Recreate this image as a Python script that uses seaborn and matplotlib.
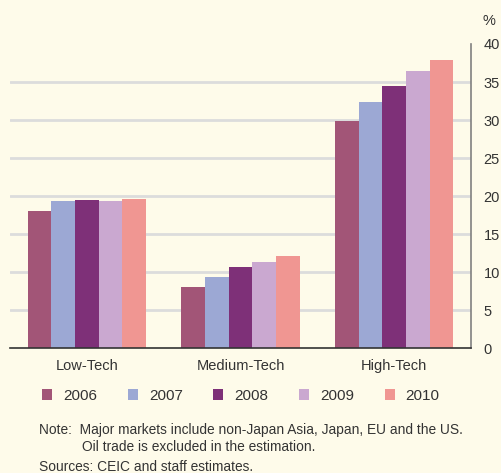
import numpy as np
import pandas as pd
import matplotlib
matplotlib.use("Agg")
import matplotlib.pyplot as plt
import seaborn as sns
from matplotlib.patches import Patch

# ── Data ──────────────────────────────────────────────────────────────────────
categories = ["Low-Tech", "Medium-Tech", "High-Tech"]
years = ["2006", "2007", "2008", "2009", "2010"]
share_2006 = [18.1, 8.0, 29.9]
share_2007 = [19.3, 9.3, 32.4]
share_2008 = [19.5, 10.7, 34.5]
share_2009 = [19.3, 11.3, 36.4]
share_2010 = [19.6, 12.1, 37.9]
y_ticks = [0, 5, 10, 15, 20, 25, 30, 35, 40]

colors = ["#A25577", "#9CA8D4", "#7E3078", "#CAA8D0", "#F09692"]
bg = "#FEFBEA"

rows = []
for yr, vals in zip(years, [share_2006, share_2007, share_2008, share_2009, share_2010]):
    for cat, v in zip(categories, vals):
        rows.append({"category": cat, "year": yr, "share": v})
df = pd.DataFrame(rows)

sns.set_style("white")
plt.rcParams["font.family"] = ["Liberation Sans", "DejaVu Sans"]

fig = plt.figure(figsize=(5.02, 4.73), dpi=100, facecolor=bg)
ax = fig.add_axes([0.02, 0.264, 0.918, 0.643], facecolor=bg)

for y in y_ticks[1:-1]:
    ax.axhline(y, color="#DCDCDC", lw=2.0, zorder=0)

sns.barplot(data=df, x="category", y="share", hue="year", order=categories,
            hue_order=years, palette=colors, width=0.77, gap=0,
            saturation=1, linewidth=0, ax=ax, legend=False, zorder=2)

ax.set_ylim(0, 40)
ax.set_xlim(-0.5, 2.5)
ax.set_xlabel("")
ax.set_ylabel("")

# y axis on right
ax.yaxis.tick_right()
ax.set_yticks(y_ticks)
ax.tick_params(axis="y", length=0, pad=9, labelsize=10.5, labelcolor="#333333")
for s in ["top", "left"]:
    ax.spines[s].set_visible(False)
ax.spines["right"].set_color("#808080")
ax.spines["right"].set_linewidth(1.2)
ax.spines["bottom"].set_color("#333333")
ax.spines["bottom"].set_linewidth(1.2)

# x ticks at group boundaries, labels at centres
ax.set_xticks([-0.5, 0.5, 1.5])
ax.set_xticklabels([])
ax.tick_params(axis="x", which="major", direction="in", length=10, width=1, color="#333333")
ax.set_xticks([0, 1, 2], minor=True)
ax.set_xticklabels(categories, minor=True)
ax.tick_params(axis="x", which="minor", length=0, pad=8, labelsize=10.5, labelcolor="#333333")

fig.text(0.987, 0.955, "%", ha="right", va="center", fontsize=10.5, color="#333333")

handles = [Patch(facecolor=c, edgecolor="none") for c in colors]
fig.legend(handles, years, loc="center", bbox_to_anchor=(0.48, 0.163), ncol=5,
           frameon=False, fontsize=11, handlelength=0.65, handleheight=0.65,
           handletextpad=0.73, columnspacing=2.0, labelcolor="#333333")

fig.text(0.078, 0.09, "Note:  Major markets include non-Japan Asia, Japan, EU and the US.",
         fontsize=9.9, color="#333333", va="center")
fig.text(0.163, 0.055, "Oil trade is excluded in the estimation.",
         fontsize=9.9, color="#333333", va="center")
fig.text(0.078, 0.012, "Sources: CEIC and staff estimates.",
         fontsize=9.9, color="#333333", va="center")

fig.savefig("out.png", dpi=100, facecolor=bg)
